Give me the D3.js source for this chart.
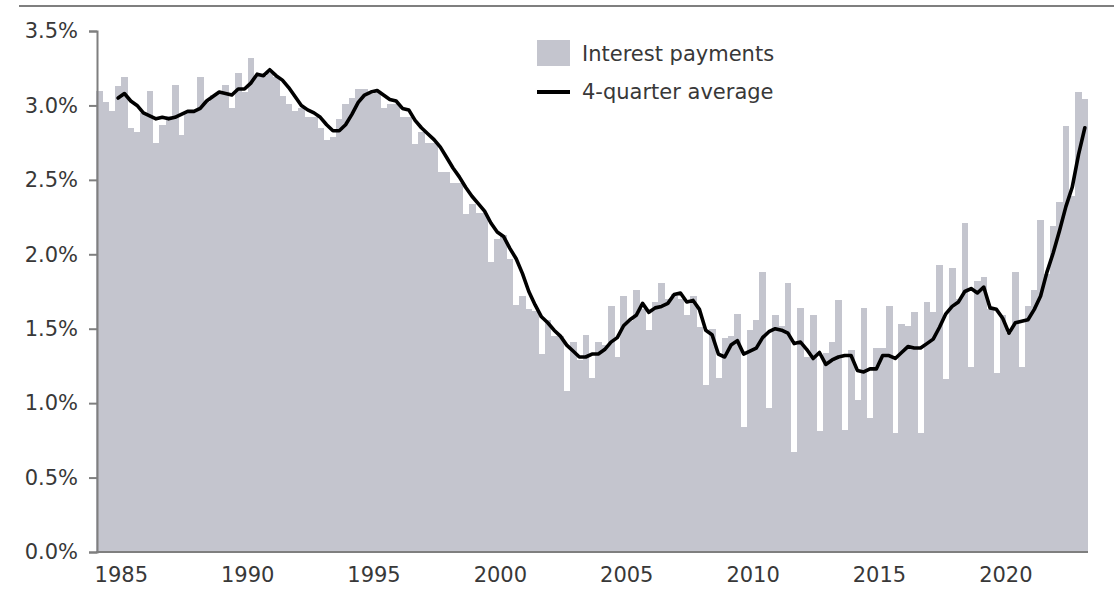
<!DOCTYPE html>
<html>
<head>
<meta charset="utf-8">
<script src="https://cdn.jsdelivr.net/npm/d3@7"></script>
<style>
  html, body { margin: 0; padding: 0; background: #ffffff; }
  svg { display: block; font-family: "DejaVu Sans", Verdana, sans-serif; }
</style>
</head>
<body>
<svg id="chart" width="1114" height="590"></svg>
<script>
// Quarterly interest payments (% ), 1984 Q1 – 2023 Q1
const firstYear = 1984;
const interestPayments = [
  3.10, 3.02, 2.96, 3.13,  3.19, 2.85, 2.82, 2.95,  3.10, 2.75, 2.87, 2.93,  3.14, 2.80, 2.95, 2.96,
  3.19, 3.02, 3.07, 3.08,  3.14, 2.98, 3.22, 3.09,  3.32, 3.20, 3.20, 3.22,  3.19, 3.06, 3.01, 2.96,
  2.98, 2.92, 2.92, 2.85,  2.77, 2.79, 2.91, 3.01,  3.05, 3.11, 3.11, 3.08,  3.10, 2.98, 3.01, 3.01,
  2.92, 2.92, 2.74, 2.82,  2.75, 2.75, 2.55, 2.55,  2.48, 2.48, 2.27, 2.34,  2.28, 2.28, 1.95, 2.10,
  2.13, 1.97, 1.66, 1.72,  1.63, 1.62, 1.33, 1.56,  1.45, 1.45, 1.08, 1.41,  1.29, 1.46, 1.17, 1.41,
  1.39, 1.65, 1.31, 1.72,  1.55, 1.76, 1.63, 1.49,  1.68, 1.81, 1.70, 1.73,  1.70, 1.59, 1.72, 1.51,
  1.12, 1.50, 1.17, 1.44,  1.45, 1.60, 0.84, 1.49,  1.56, 1.88, 0.97, 1.59,  1.52, 1.81, 0.67, 1.64,
  1.31, 1.59, 0.81, 1.34,  1.41, 1.69, 0.82, 1.36,  1.02, 1.64, 0.90, 1.37,  1.37, 1.65, 0.80, 1.53,
  1.52, 1.61, 0.80, 1.68,  1.61, 1.93, 1.16, 1.91,  1.70, 2.21, 1.24, 1.82,  1.85, 1.63, 1.20, 1.59,
  1.47, 1.88, 1.24, 1.65,  1.76, 2.23, 1.87, 2.19,  2.35, 2.86, 2.39, 3.09,  3.04
];

// 4-quarter average, starting at 1984 Q4
const avgStartIndex = 3;
const fourQuarterAverage = [
  3.05,
  3.08, 3.03, 3.00, 2.95,  2.93, 2.91, 2.92, 2.91,  2.92, 2.94, 2.96, 2.96,  2.98, 3.03, 3.06, 3.09,
  3.08, 3.07, 3.11, 3.11,  3.15, 3.21, 3.20, 3.24,  3.20, 3.17, 3.12, 3.06,  3.00, 2.97, 2.95, 2.92,
  2.87, 2.83, 2.83, 2.87,  2.94, 3.02, 3.07, 3.09,  3.10, 3.07, 3.04, 3.03,  2.98, 2.97, 2.90, 2.85,
  2.81, 2.77, 2.72, 2.65,  2.58, 2.52, 2.45, 2.39,  2.34, 2.29, 2.21, 2.15,  2.12, 2.04, 1.97, 1.87,
  1.75, 1.66, 1.58, 1.54,  1.49, 1.45, 1.39, 1.35,  1.31, 1.31, 1.33, 1.33,  1.36, 1.41, 1.44, 1.52,
  1.56, 1.59, 1.67, 1.61,  1.64, 1.65, 1.67, 1.73,  1.74, 1.68, 1.69, 1.63,  1.49, 1.46, 1.33, 1.31,
  1.39, 1.42, 1.33, 1.35,  1.37, 1.44, 1.48, 1.50,  1.49, 1.47, 1.40, 1.41,  1.36, 1.30, 1.34, 1.26,
  1.29, 1.31, 1.32, 1.32,  1.22, 1.21, 1.23, 1.23,  1.32, 1.32, 1.30, 1.34,  1.38, 1.37, 1.37, 1.40,
  1.43, 1.51, 1.60, 1.65,  1.68, 1.75, 1.77, 1.74,  1.78, 1.64, 1.63, 1.57,  1.47, 1.54, 1.55, 1.56,
  1.63, 1.72, 1.88, 2.01,  2.16, 2.32, 2.45, 2.67,  2.85
];

const yTicks = [0, 0.5, 1.0, 1.5, 2.0, 2.5, 3.0, 3.5];
const yearTicks = [1985, 1990, 1995, 2000, 2005, 2010, 2015, 2020];
const legendLabels = ["Interest payments", "4-quarter average"];

const quarters = interestPayments.map((_, i) => i);

const svg = d3.select("#chart");
const plot = { left: 96, right: 1088, top: 31, bottom: 552 };
const barColor = "#c4c5ce";
const axisColor = "#7f7f7f";
const textColor = "#383838";
const fontSize = "21px";

const x = d3.scaleBand().domain(quarters).range([plot.left, plot.right]).padding(0);
const xYear = d3.scaleLinear()
  .domain([firstYear, firstYear + interestPayments.length / 4])
  .range([plot.left, plot.right]);
const y = d3.scaleLinear().domain([0, 3.5]).range([plot.bottom, plot.top]);

// rule across the top
svg.append("line")
  .attr("x1", 19).attr("x2", 1114).attr("y1", 6).attr("y2", 6)
  .attr("stroke", axisColor).attr("stroke-width", 2);

// bars (drawn slightly wider to avoid hairline seams)
svg.append("g").selectAll("rect")
  .data(interestPayments)
  .join("rect")
  .attr("x", (d, i) => x(i))
  .attr("width", x.bandwidth() + 0.4)
  .attr("y", d => y(d))
  .attr("height", d => y(0) - y(d))
  .attr("fill", barColor)
  .attr("shape-rendering", "crispEdges");

// y axis
const yAxis = svg.append("g")
  .attr("transform", `translate(${plot.left + 1},0)`)
  .call(d3.axisLeft(y).tickValues(yTicks).tickFormat(d => d.toFixed(1) + "%").tickSize(8).tickPadding(11));
yAxis.select(".domain").attr("stroke", axisColor).attr("stroke-width", 2);
yAxis.selectAll(".tick line").attr("stroke", axisColor).attr("stroke-width", 2);
yAxis.selectAll(".tick text")
  .attr("fill", textColor).style("font-size", fontSize)
  .style("font-family", "'DejaVu Sans', Verdana, sans-serif");

// x baseline
svg.append("line")
  .attr("x1", plot.left).attr("x2", plot.right)
  .attr("y1", y(0)).attr("y2", y(0))
  .attr("stroke", axisColor).attr("stroke-width", 2);

// year labels
svg.append("g").selectAll("text")
  .data(yearTicks)
  .join("text")
  .attr("x", d => xYear(d))
  .attr("y", 582)
  .attr("text-anchor", "middle")
  .attr("fill", textColor)
  .style("font-size", fontSize)
  .text(d => d);

// 4-quarter average line
const line = d3.line()
  .x((d, i) => x(i + avgStartIndex) + x.bandwidth() / 2)
  .y(d => y(d));
svg.append("path")
  .datum(fourQuarterAverage)
  .attr("d", line)
  .attr("fill", "none")
  .attr("stroke", "#000")
  .attr("stroke-width", 3.6)
  .attr("stroke-linejoin", "round")
  .attr("stroke-linecap", "round");

// legend
const legend = svg.append("g");
legend.append("rect")
  .attr("x", 537).attr("y", 40).attr("width", 33).attr("height", 26)
  .attr("fill", barColor);
legend.append("line")
  .attr("x1", 537).attr("x2", 570).attr("y1", 92).attr("y2", 92)
  .attr("stroke", "#000").attr("stroke-width", 4);
legend.selectAll("text")
  .data(legendLabels)
  .join("text")
  .attr("x", 582)
  .attr("y", (d, i) => 54 + i * 38)
  .attr("dy", "0.35em")
  .attr("fill", textColor)
  .style("font-size", fontSize)
  .text(d => d);
</script>
</body>
</html>
